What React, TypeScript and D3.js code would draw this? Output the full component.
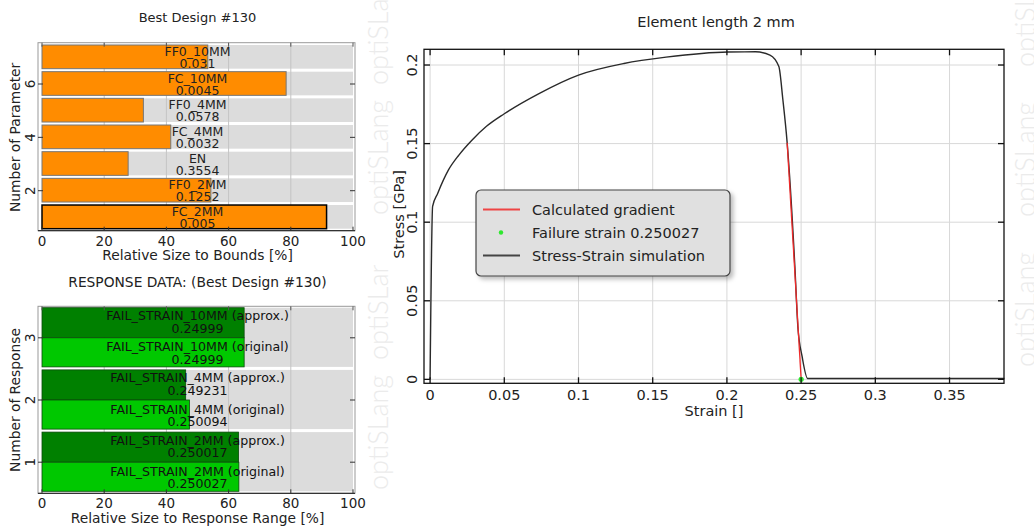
import * as d3 from "d3";
import React, { useEffect } from "react";

// parameter chart (index 1..7 from bottom)
const paramNames = ["FC_2MM", "FF0_2MM", "EN", "FC_4MM", "FF0_4MM", "FC_10MM", "FF0_10MM"];
const paramValues = ["0.005", "0.1252", "0.3554", "0.0032", "0.0578", "0.0045", "0.031"];
const paramRelSize = [91.5, 54.3, 27.7, 41.4, 32.6, 78.5, 53.3];

// response chart (index 1..3 from bottom)
const responseNames = ["FAIL_STRAIN_2MM", "FAIL_STRAIN_4MM", "FAIL_STRAIN_10MM"];
const approxValues = ["0.250017", "0.249231", "0.24999"];
const originalValues = ["0.250027", "0.250094", "0.24999"];
const approxRel = [63.2, 46.2, 65.0];
const originalRel = [63.3, 47.4, 65.0];

const pctTicks = [0, 20, 40, 60, 80, 100];

// stress-strain simulation
const strain = [0, 0.0017, 0.0051, 0.0123, 0.0194, 0.028, 0.038, 0.05, 0.0737, 0.1, 0.1306, 0.159, 0.2007, 0.2193, 0.229, 0.235, 0.2377, 0.2406, 0.2458, 0.2478, 0.2507, 0.2544, 0.3, 0.387];
const stress = [0, 0.11, 0.1183, 0.1331, 0.1427, 0.152, 0.161, 0.169, 0.182, 0.1936, 0.201, 0.205, 0.2083, 0.2084, 0.2063, 0.199, 0.178, 0.1505, 0.0716, 0.0335, 0.0144, 0.0006, 0.0006, 0.0006];
const gradStrain = [0.2406, 0.250027];
const gradStress = [0.1505, 0];
const failureStrain = 0.250027;
const strainTicks = [0, 0.05, 0.1, 0.15, 0.2, 0.25, 0.3, 0.35];
const stressTicks = [0, 0.05, 0.1, 0.15, 0.2];

const leftFont = "DejaVu Sans, Verdana, sans-serif";
const rightFont = "DejaVu Sans, Tahoma, sans-serif";
const wmFont = "Lato, Noto Sans, sans-serif";

function Watermark({ x, ys, clipId }: { x: number; ys: number[]; clipId: string }) {
  return (
    <g clipPath={`url(#${clipId})`}>
      {ys.map((y, i) => (
        <text key={i} transform={`translate(${x},${y}) rotate(-90)`} fontFamily={wmFont} fontWeight={300}
          fontSize={27} fill="#ebebeb">optiSLang</text>
      ))}
    </g>
  );
}

function PctFrame({ x, top, bottom, yTicks }: { x: d3.ScaleLinear<number, number>; top: number; bottom: number; yTicks: { y: number; label: string }[] }) {
  const left = 38, right = 355;
  return (
    <g>
      <rect x={left} y={top} width={right - left} height={bottom - top} fill="none" stroke="#999" strokeWidth={1} />
      <line x1={left} x2={right} y1={bottom} y2={bottom} stroke="#333" strokeWidth={1.2} />
      {pctTicks.map((t) => (
        <g key={t}>
          <line x1={x(t)} x2={x(t)} y1={bottom} y2={bottom - 4} stroke="#333" />
          <line x1={x(t)} x2={x(t)} y1={top} y2={top + 4} stroke="#555" />
          <text x={x(t)} y={bottom + 15} textAnchor="middle" fontSize={13.5} fill="#222" fontFamily={leftFont}>{t}</text>
        </g>
      ))}
      {yTicks.map((t) => (
        <g key={t.label}>
          <line x1={left} x2={left + 5} y1={t.y} y2={t.y} stroke="#333" />
          <line x1={right} x2={right - 5} y1={t.y} y2={t.y} stroke="#333" />
          <text transform={`translate(${left - 3},${t.y}) rotate(-90)`} textAnchor="middle" fontSize={13.5} fill="#222" fontFamily={leftFont}>{t.label}</text>
        </g>
      ))}
    </g>
  );
}

export default function App() {
  useEffect(() => {
    document.body.style.margin = "0";
  }, []);

  // ---- top left: parameters
  const xP = d3.scaleLinear().domain([0, 100]).range([42, 353]);
  const yP = d3.scaleLinear().domain([0.5, 7.5]).range([230.7, 44]);
  const params = paramNames.map((n, i) => ({ n, v: paramValues[i], r: paramRelSize[i], k: i + 1 }));

  // ---- bottom left: responses
  const yR = d3.scaleLinear().domain([0.5, 3.5]).range([493.3, 306.7]);
  const responses = responseNames.map((n, i) => ({ n, k: i + 1, av: approxValues[i], ov: originalValues[i], ar: approxRel[i], or: originalRel[i] }));

  // ---- right: stress strain
  const xS = d3.scaleLinear().domain([-0.0041, 0.3867]).range([424, 1004]);
  const yS = d3.scaleLinear().domain([-0.0025, 0.21]).range([383.3, 49.3]);
  const pts = strain.map((s, i) => [s, stress[i]] as [number, number]);
  const line = d3.line<[number, number]>().x((d) => xS(d[0])).y((d) => yS(d[1])).curve(d3.curveMonotoneX);
  const gradPts = gradStrain.map((s, i) => [s, gradStress[i]] as [number, number]);
  const gline = d3.line<[number, number]>().x((d) => xS(d[0])).y((d) => yS(d[1]));
  const [sx0, sx1] = xS.range();
  const [sy0, sy1] = yS.range();
  const fmt = (v: number) => String(+v.toFixed(2));

  return (
    <svg width={1034} height={530} style={{ display: "block", background: "#fff" }}>
      <defs>
        <clipPath id="c1"><rect x={0} y={0} width={400} height={265} /></clipPath>
        <clipPath id="c2"><rect x={0} y={265} width={400} height={265} /></clipPath>
        <clipPath id="c3"><rect x={400} y={0} width={634} height={530} /></clipPath>
        <filter id="sh" x="-10%" y="-10%" width="130%" height="140%">
          <feDropShadow dx={3} dy={3} stdDeviation={2} floodColor="#000" floodOpacity={0.25} />
        </filter>
      </defs>

      <Watermark x={388} ys={[215, 85]} clipId="c1" />
      <Watermark x={388} ys={[490, 360]} clipId="c2" />
      <Watermark x={1035} ys={[367, 217, 67]} clipId="c3" />

      {/* ---------- parameters ---------- */}
      <text x={197.5} y={22} textAnchor="middle" fontSize={13} fill="#222" fontFamily={leftFont}>Best Design #130</text>
      {params.map((d) => (
        <rect key={"bg" + d.k} x={xP(0)} width={xP(100) - xP(0)} y={yP(d.k + 0.5) + 1} height={yP(d.k - 0.5) - yP(d.k + 0.5) - 3} fill="#dcdcdc" />
      ))}
      {[20, 40, 60, 80].map((t) => (
        <line key={t} x1={xP(t)} x2={xP(t)} y1={43} y2={230} stroke="#c4c4c4" />
      ))}
      {params.map((d) => (
        <rect key={"b" + d.k} x={xP(0)} width={xP(d.r) - xP(0)} y={yP(d.k + 0.5) + 1} height={yP(d.k - 0.5) - yP(d.k + 0.5) - 3}
          fill="#ff8c00" stroke={d.k === 1 ? "#000" : "#777"} strokeWidth={d.k === 1 ? 1.5 : 1} />
      ))}
      {params.map((d) => (
        <g key={"t" + d.k} fontSize={12.5} fill="#222" fontFamily={leftFont} textAnchor="middle">
          <text x={xP(50)} y={yP(d.k) - 1.5}>{d.n}</text>
          <text x={xP(50)} y={yP(d.k) + 10.5}>{d.v}</text>
        </g>
      ))}
      <PctFrame x={xP} top={42.7} bottom={230.7} yTicks={[2, 4, 6].map((k) => ({ y: yP(k), label: String(k) }))} />
      <text x={197.5} y={260} textAnchor="middle" fontSize={13.8} fill="#222" fontFamily={leftFont}>Relative Size to Bounds [%]</text>
      <text transform={`translate(20,${yP(4)}) rotate(-90)`} textAnchor="middle" fontSize={13.8} fill="#222" fontFamily={leftFont}>Number of Parameter</text>

      {/* ---------- responses ---------- */}
      <text x={197.5} y={287} textAnchor="middle" fontSize={13.8} fill="#222" fontFamily={leftFont}>RESPONSE DATA: (Best Design #130)</text>
      {responses.map((d) => (
        <rect key={"bg" + d.k} x={xP(0)} width={xP(100) - xP(0)} y={yR(d.k + 0.5) + 1} height={yR(d.k - 0.5) - yR(d.k + 0.5) - 3} fill="#dcdcdc" />
      ))}
      {[20, 40, 60, 80].map((t) => (
        <line key={t} x1={xP(t)} x2={xP(t)} y1={307} y2={493} stroke="#c4c4c4" />
      ))}
      {responses.map((d) => (
        <g key={"b" + d.k}>
          <rect x={xP(0)} width={xP(d.ar) - xP(0)} y={yR(d.k + 0.5) + 1} height={yR(d.k) - yR(d.k + 0.5) - 1} fill="#008000" stroke="#0a4a0a" strokeWidth={0.8} />
          <rect x={xP(0)} width={xP(d.or) - xP(0)} y={yR(d.k)} height={yR(d.k - 0.5) - yR(d.k) - 2} fill="#00c800" stroke="#0a4a0a" strokeWidth={0.8} />
        </g>
      ))}
      {responses.map((d) => {
        const ca = (yR(d.k + 0.5) + yR(d.k)) / 2;
        const co = (yR(d.k) + yR(d.k - 0.5)) / 2;
        return (
          <g key={"t" + d.k} fontSize={12.6} fill="#111" fontFamily={leftFont} textAnchor="middle">
            <text x={xP(50)} y={ca - 2}>{d.n} (approx.)</text>
            <text x={xP(50)} y={ca + 10.5}>{d.av}</text>
            <text x={xP(50)} y={co - 2}>{d.n} (original)</text>
            <text x={xP(50)} y={co + 10.5}>{d.ov}</text>
          </g>
        );
      })}
      <PctFrame x={xP} top={306.3} bottom={493.3} yTicks={[1, 2, 3].map((k) => ({ y: yR(k), label: String(k) }))} />
      <text x={197.5} y={523} textAnchor="middle" fontSize={13.8} fill="#222" fontFamily={leftFont}>Relative Size to Response Range [%]</text>
      <text transform={`translate(20,${yR(2)}) rotate(-90)`} textAnchor="middle" fontSize={13.8} fill="#222" fontFamily={leftFont}>Number of Response</text>

      {/* ---------- stress strain ---------- */}
      <text x={716} y={27} textAnchor="middle" fontSize={14.5} fill="#222" fontFamily={rightFont}>Element length 2 mm</text>
      {strainTicks.map((t) => (
        <line key={"gx" + t} x1={xS(t)} x2={xS(t)} y1={sy1} y2={sy0} stroke="#d8d8d8" />
      ))}
      {stressTicks.map((t) => (
        <line key={"gy" + t} x1={sx0} x2={sx1} y1={yS(t)} y2={yS(t)} stroke="#d8d8d8" />
      ))}
      <path d={line(pts) ?? ""} fill="none" stroke="#2a2a2a" strokeWidth={1.4} />
      <path d={gline(gradPts) ?? ""} fill="none" stroke="#ee2a2a" strokeWidth={1.3} />
      <circle cx={xS(failureStrain)} cy={yS(0)} r={2.6} fill="#2ee82e" />
      <rect x={sx0} y={sy1} width={sx1 - sx0} height={sy0 - sy1} fill="none" stroke="#111" strokeWidth={1.3} />
      {strainTicks.map((t) => (
        <g key={"tx" + t}>
          <line x1={xS(t)} x2={xS(t)} y1={sy0} y2={sy0 - 6} stroke="#111" strokeWidth={1.3} />
          <line x1={xS(t)} x2={xS(t)} y1={sy1} y2={sy1 + 6} stroke="#111" strokeWidth={1.3} />
          <text x={xS(t)} y={400} textAnchor="middle" fontSize={14.5} fill="#222" fontFamily={rightFont}>{fmt(t)}</text>
        </g>
      ))}
      {stressTicks.map((t) => (
        <g key={"ty" + t}>
          <line x1={sx0} x2={sx0 + 6} y1={yS(t)} y2={yS(t)} stroke="#111" strokeWidth={1.3} />
          <line x1={sx1} x2={sx1 - 6} y1={yS(t)} y2={yS(t)} stroke="#111" strokeWidth={1.3} />
          <text transform={`translate(${sx0 - 7},${yS(t)}) rotate(-90)`} textAnchor="middle" fontSize={14.5} fill="#222" fontFamily={rightFont}>{fmt(t)}</text>
        </g>
      ))}
      <text x={714} y={416} textAnchor="middle" fontSize={14.5} fill="#222" fontFamily={rightFont}>Strain []</text>
      <text transform={`translate(404,${yS(0.105)}) rotate(-90)`} textAnchor="middle" fontSize={14.5} fill="#222" fontFamily={rightFont}>Stress [GPa]</text>

      {/* legend */}
      <g fontFamily={rightFont} fontSize={14.5} fill="#222">
        <rect x={476} y={190} width={254} height={86} rx={5} fill="#e0e0e0" stroke="#444" strokeWidth={1.2} filter="url(#sh)" />
        <line x1={483} x2={520} y1={209.5} y2={209.5} stroke="#ee4444" strokeWidth={2} />
        <text x={532} y={215}>Calculated gradient</text>
        <circle cx={501} cy={232.5} r={2.2} fill="#2ee82e" />
        <text x={532} y={238}>Failure strain 0.250027</text>
        <line x1={483} x2={520} y1={255.5} y2={255.5} stroke="#444" strokeWidth={2} />
        <text x={532} y={261}>Stress-Strain simulation</text>
      </g>
    </svg>
  );
}
